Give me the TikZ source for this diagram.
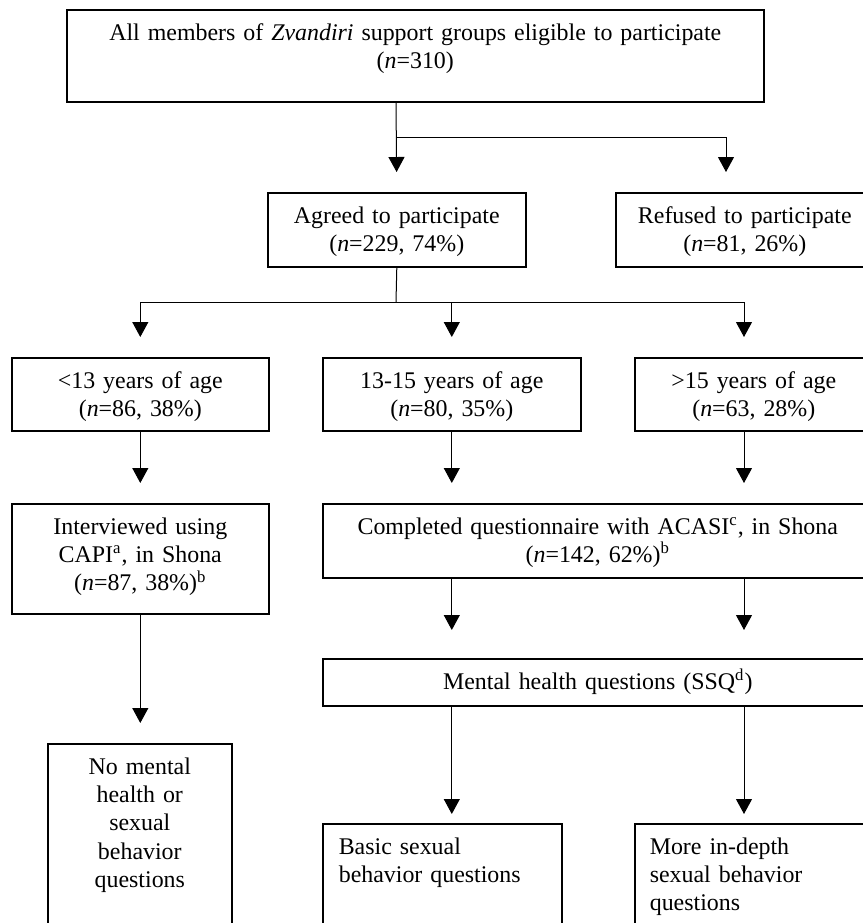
\documentclass[tikz,border=0pt]{standalone}
\usepackage{fontspec}
\setmainfont{Liberation Serif}
\usetikzlibrary{arrows.meta}

\begin{document}
\begin{tikzpicture}[x=0.5pt,y=-0.5pt,
  box/.style={draw, line width=0.8pt, anchor=north west, inner sep=0pt,
    text height=15.25pt, align=center, font={\fontsize{11.95}{14.15}\selectfont}},
  flow/.style={line width=0.5pt},
  arrow/.style={flow, -{Triangle[length=7.5pt,width=8pt]}, shorten >=10pt}]
\useasboundingbox (0,0) rectangle (863,923);
\clip (0,0) rectangle (863,923);

% boxes
\node[box, text width=348.5pt, text depth=30.75pt] (all) at (66,9)
  {All members of \textit{Zvandiri} support groups eligible to participate\\(\textit{n}=310)};
\node[box, text width=129pt, text depth=21.75pt] (agreed) at (267,192)
  {Agreed to participate\\(\textit{n}=229, 74\%)};
\node[box, text width=129pt, text depth=21.75pt] (refused) at (615,192)
  {Refused to participate\\(\textit{n}=81, 26\%)};

\node[box, text width=128.5pt, text depth=21.25pt] (age1) at (11,357)
  {<13 years of age\\(\textit{n}=86, 38\%)};
\node[box, text width=129pt, text depth=21.25pt] (age2) at (322,357)
  {13-15 years of age\\(\textit{n}=80, 35\%)};
\node[box, text width=119pt, text depth=21.25pt] (age3) at (634,357)
  {>15 years of age\\(\textit{n}=63, 28\%)};

\node[box, text width=128.5pt, text depth=39.75pt] (capi) at (11,503)
  {Interviewed using\\CAPI\textsuperscript{a}, in Shona\\(\textit{n}=87, 38\%)\textsuperscript{b}};
\node[box, text width=275pt, text depth=21.75pt] (acasi) at (322,503)
  {Completed questionnaire with ACASI\textsuperscript{c}, in Shona\\(\textit{n}=142, 62\%)\textsuperscript{b}};
\node[box, text width=275pt, text depth=8.25pt] (mental) at (322,658)
  {Mental health questions (SSQ\textsuperscript{d})};

\node[box, text width=92pt, text depth=93.25pt] (nomental) at (47,743)
  {No mental\\health or\\sexual\\behavior\\questions};
\node[box, align=left, inner xsep=8pt, text width=103.5pt, text depth=53.25pt] (basic) at (322,823)
  {Basic sexual\\behavior questions};
\node[box, align=left, inner xsep=7.5pt, text width=104pt, text depth=53.25pt] (more) at (634,823)
  {More in-depth\\sexual behavior\\questions};

% connectors
\coordinate (fork1) at (396,137);
\coordinate (refin) at (726,192);
\coordinate (fork2) at (396,302);
\coordinate (col) at (744,0);

\draw[arrow] (all.south -| fork1) -- (agreed.north);
\draw[arrow] (fork1) -| (refin);
\draw[flow] (agreed.south) -- (fork2);
\draw[arrow] (fork2) -| (age1.north);
\draw[arrow] (fork2) -| (age3.north -| col);
\draw[arrow] (fork2 -| age2.north) -- (age2.north);

\draw[arrow] (age1.south) -- (capi.north);
\draw[arrow] (age2.south) -- (acasi.north -| age2.south);
\draw[arrow] (age3.south -| col) -- (acasi.north -| col);
\draw[arrow] (capi.south) -- (nomental.north -| capi.south);

\draw[arrow, shorten >=14pt] (acasi.south -| age2.south) -- (mental.north -| age2.south);
\draw[arrow, shorten >=14pt] (acasi.south -| col) -- (mental.north -| col);
\draw[arrow, shorten >=4.5pt] (mental.south -| age2.south) -- (basic.north -| age2.south);
\draw[arrow, shorten >=4.5pt] (mental.south -| col) -- (more.north -| col);

\end{tikzpicture}
\end{document}
